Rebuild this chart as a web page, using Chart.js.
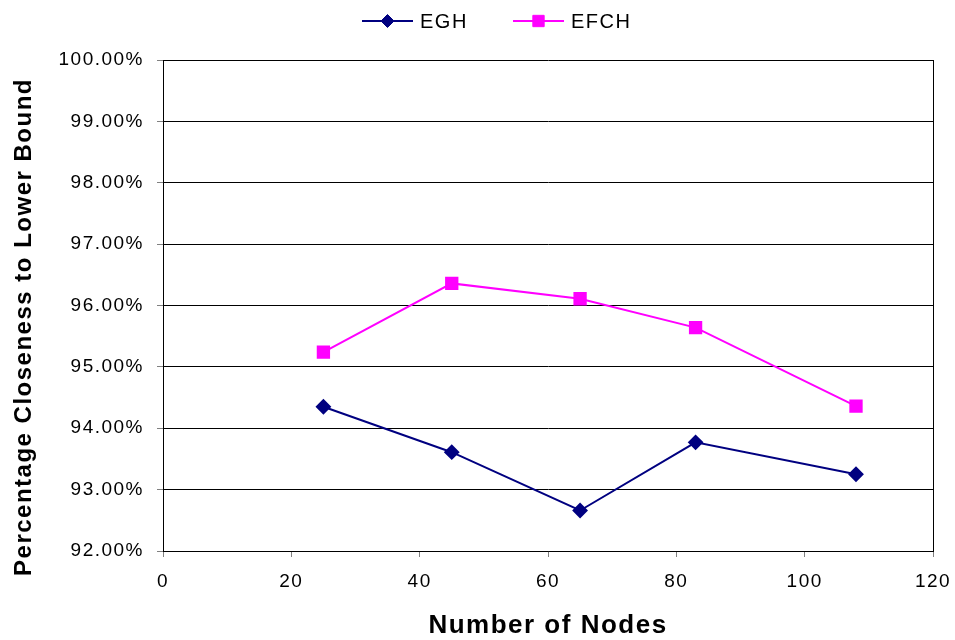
<!DOCTYPE html>
<html>
<head>
<meta charset="utf-8">
<script src="https://cdn.jsdelivr.net/npm/chart.js@4/dist/chart.umd.min.js"></script>
<style>
  html, body { margin: 0; padding: 0; background: #fff; }
  #wrap { width: 955px; height: 640px; position: relative; }
</style>
</head>
<body>
<div id="wrap"><canvas id="c" width="955" height="640"></canvas></div>
<script>
// Problem sizes (number of nodes) and the two heuristics' closeness to the lower bound (%)
const nodes = [25, 45, 65, 83, 108];
const eghValues = [94.35, 93.61, 92.66, 93.77, 93.25];
const efchValues = [95.24, 96.36, 96.11, 95.64, 94.36];
const seriesNames = ['EGH', 'EFCH'];
const xTitle = 'Number of Nodes';
const yTitle = 'Percentage Closeness to Lower Bound';

const FONT = '"Liberation Sans", Arial, sans-serif';
const SPACING = '1.5px';

const toPoints = (xs, ys) => xs.map((x, i) => ({ x: x, y: ys[i] }));

// Wide-tracked text throughout the chart
const spacingPlugin = {
  id: 'spacing',
  beforeUpdate(chart) { chart.ctx.letterSpacing = SPACING; },
  beforeDraw(chart) { chart.ctx.letterSpacing = SPACING; }
};

// Frame around the plot, axis titles and the legend row
const decorPlugin = {
  id: 'decor',
  afterDraw(chart) {
    const ctx = chart.ctx;
    const a = chart.chartArea;
    ctx.save();
    ctx.letterSpacing = SPACING;
    ctx.strokeStyle = '#000';
    ctx.lineWidth = 1;
    ctx.beginPath();
    ctx.moveTo(Math.round(a.right) + 0.5, a.top);
    ctx.lineTo(Math.round(a.right) + 0.5, a.bottom);
    ctx.stroke();

    // x axis title
    ctx.fillStyle = '#000';
    ctx.font = 'bold 26px ' + FONT;
    ctx.textAlign = 'center';
    ctx.textBaseline = 'alphabetic';
    ctx.fillText(xTitle, (a.left + a.right) / 2, 633);

    // y axis title
    ctx.save();
    ctx.translate(31, 327);
    ctx.rotate(-Math.PI / 2);
    ctx.font = 'bold 24px ' + FONT;
    ctx.fillText(yTitle, 0, 0);
    ctx.restore();

    // legend: line sample with marker, then label
    ctx.font = '20px ' + FONT;
    ctx.textAlign = 'left';
    ctx.textBaseline = 'middle';
    const starts = [362, 513];
    chart.data.datasets.forEach((ds, i) => {
      const x0 = starts[i];
      const y0 = 21;
      ctx.strokeStyle = ds.borderColor;
      ctx.lineWidth = 2;
      ctx.beginPath();
      ctx.moveTo(x0, y0);
      ctx.lineTo(x0 + 51, y0);
      ctx.stroke();
      ctx.fillStyle = ds.pointBackgroundColor;
      ctx.strokeStyle = ds.pointBorderColor;
      ctx.lineWidth = 1;
      Chart.helpers.drawPoint(ctx, {
        pointStyle: ds.pointStyle,
        radius: ds.pointRadius,
        rotation: 0,
        borderWidth: 1
      }, x0 + 25.5, y0);
      ctx.fillStyle = '#000';
      ctx.fillText(ds.label, x0 + 58, y0 + 1);
    });
    ctx.restore();
  }
};

new Chart(document.getElementById('c'), {
  type: 'line',
  data: {
    datasets: [
      {
        label: seriesNames[0],
        data: toPoints(nodes, eghValues),
        borderColor: '#000080',
        backgroundColor: '#000080',
        pointBackgroundColor: '#000080',
        pointBorderColor: '#000080',
        pointStyle: 'rectRot',
        pointRadius: 6.5,
        pointHoverRadius: 6.5,
        borderWidth: 2,
        tension: 0
      },
      {
        label: seriesNames[1],
        data: toPoints(nodes, efchValues),
        borderColor: '#FF00FF',
        backgroundColor: '#FF00FF',
        pointBackgroundColor: '#FF00FF',
        pointBorderColor: '#FF00FF',
        pointStyle: 'rect',
        pointRadius: 8,
        pointHoverRadius: 8,
        borderWidth: 2,
        tension: 0
      }
    ]
  },
  options: {
    responsive: false,
    animation: false,
    events: [],
    layout: { padding: { top: 60, right: 22, left: 0, bottom: 0 } },
    plugins: {
      legend: { display: false },
      tooltip: { enabled: false },
      title: { display: false }
    },
    scales: {
      x: {
        type: 'linear',
        min: 0,
        max: 120,
        afterFit(scale) {
          scale.height = 89;
          scale.paddingLeft = 0;
          scale.paddingRight = 0;
        },
        ticks: {
          stepSize: 20,
          color: '#000',
          font: { family: FONT, size: 19 },
          padding: 13,
          maxRotation: 0
        },
        grid: {
          drawOnChartArea: false,
          drawTicks: true,
          tickLength: 6,
          tickColor: '#808080',
          color: '#808080'
        },
        border: { display: true, color: '#000', width: 1 }
      },
      y: {
        type: 'linear',
        min: 92,
        max: 100,
        afterFit(scale) {
          scale.width = 163;
          scale.paddingTop = 0;
          scale.paddingBottom = 0;
        },
        ticks: {
          stepSize: 1,
          color: '#000',
          font: { family: FONT, size: 19 },
          padding: 13,
          callback: (v) => v.toFixed(2) + '%'
        },
        grid: {
          color: '#000',
          lineWidth: 1,
          tickLength: 6,
          tickColor: '#808080'
        },
        border: { display: true, color: '#000', width: 1 }
      }
    }
  },
  plugins: [spacingPlugin, decorPlugin]
});
</script>
</body>
</html>
